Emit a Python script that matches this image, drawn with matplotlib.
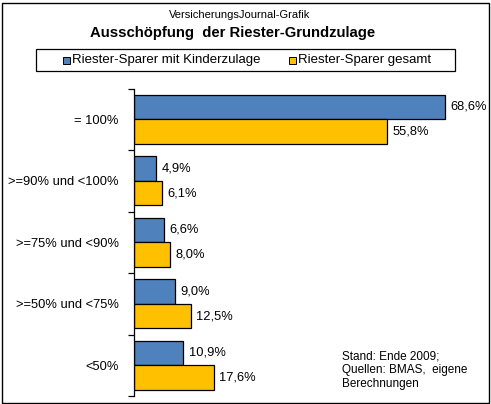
import matplotlib
matplotlib.use("Agg")
import matplotlib.pyplot as plt
from matplotlib.patches import Rectangle
import numpy as np

plt.rcParams['font.family'] = ['Liberation Sans', 'DejaVu Sans']

categories = ["= 100%", ">=90% und <100%", ">=75% und <90%", ">=50% und <75%", "<50%"]
kinder = [68.6, 4.9, 6.6, 9.0, 10.9]
gesamt = [55.8, 6.1, 8.0, 12.5, 17.6]
series_names = ["Riester-Sparer mit Kinderzulage", "Riester-Sparer gesamt"]
c_blue = "#4F81BD"
c_yellow = "#FFC000"

W, H = 491, 404
fig = plt.figure(figsize=(W/100, H/100), dpi=100)

# outer border
fig.add_artist(Rectangle((1.5/W, 1.5/H), (W-4)/W, (H-4)/H, transform=fig.transFigure,
                         fill=False, edgecolor="black", linewidth=1.0))

ax = fig.add_axes([134/W, 1 - 396/H, 317/W, (396-88.5)/H])
y = np.arange(len(categories))
h = 0.4
ax.barh(y - 0.2, kinder, height=h, color=c_blue, edgecolor="black", linewidth=0.9)
ax.barh(y + 0.2, gesamt, height=h, color=c_yellow, edgecolor="black", linewidth=0.9)

def fmt(v):
    return f"{v:.1f}".replace(".", ",") + "%"

for i, (a, b) in enumerate(zip(kinder, gesamt)):
    ax.annotate(fmt(a), (a, i - 0.2), xytext=(4, 0), textcoords="offset points",
                va="center", ha="left", fontsize=9.3)
    ax.annotate(fmt(b), (b, i + 0.2), xytext=(4, 0), textcoords="offset points",
                va="center", ha="left", fontsize=9.3)

ax.set_xlim(0, 70)
ax.set_ylim(len(categories) - 0.5, -0.5)
ax.set_xticks([])
ax.set_yticks(y)
ax.set_yticklabels(categories, fontsize=9.3)
ax.tick_params(axis="y", which="major", length=0, pad=11)
ax.set_yticks(np.arange(-0.5, len(categories) + 0.5, 1), minor=True)
ax.tick_params(axis="y", which="minor", length=4, width=0.9, direction="out")
for s in ["top", "right", "bottom"]:
    ax.spines[s].set_visible(False)
ax.spines["left"].set_linewidth(0.9)
ax.patch.set_alpha(0)

fig.text(240/W, 1 - 15/H, "VersicherungsJournal-Grafik", ha="center", va="center", fontsize=8)
fig.text(233/W, 1 - 33/H, "Ausschöpfung  der Riester-Grundzulage", ha="center", va="center",
         fontsize=10.7, fontweight="bold")

# legend box
fig.add_artist(Rectangle((36/W, 1 - 71/H), (455-36)/W, 22/H, transform=fig.transFigure,
                         fill=False, edgecolor="black", linewidth=0.9))
for xm, col, name in [(63, c_blue, series_names[0]), (289, c_yellow, series_names[1])]:
    fig.add_artist(Rectangle((xm/W, 1 - 64/H), 7/W, 7/H, transform=fig.transFigure,
                             facecolor=col, edgecolor="black", linewidth=0.7))
    fig.text((xm + 9)/W, 1 - 60/H, name, ha="left", va="center", fontsize=9.5)

fig.text(342/W, 1 - 370/H, "Stand: Ende 2009;\nQuellen: BMAS,  eigene\nBerechnungen",
         ha="left", va="center", fontsize=8.5, linespacing=1.2)

fig.savefig("out.png", dpi=100)
